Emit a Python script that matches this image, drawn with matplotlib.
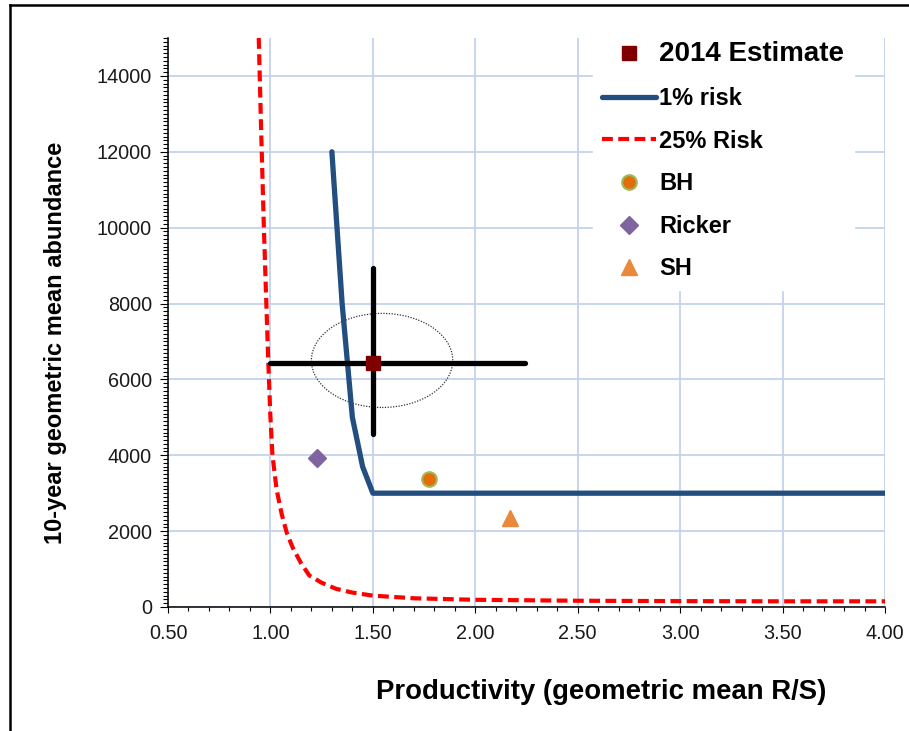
import matplotlib
matplotlib.use("Agg")
import matplotlib.pyplot as plt
from matplotlib.ticker import MultipleLocator, FormatStrFormatter
from matplotlib.patches import Ellipse
from matplotlib.lines import Line2D

plt.rcParams['font.family'] = ['Liberation Sans', 'DejaVu Sans']

############################################### data

# 1% risk boundary
risk1_x = [1.30, 1.35, 1.40, 1.45, 1.50, 4.00]
risk1_y = [12000, 8000, 5000, 3700, 3000, 3000]

# 25% risk boundary
risk25_x = [0.943, 0.955, 0.968, 0.980, 0.990, 1.000, 1.010, 1.030, 1.055, 1.080,
            1.110, 1.150, 1.190, 1.250, 1.320, 1.400, 1.500, 1.700, 2.000, 2.500,
            3.000, 3.500, 4.000]
risk25_y = [15000, 12500, 10000, 8000, 6400, 5000, 4000, 3100, 2450, 1950,
            1550, 1150, 830, 640, 480, 380, 300, 230, 190, 165,
            155, 150, 150]

# 2014 estimate and its intervals
est_x, est_y = 1.50, 6420
est_x_range = [1.00, 2.245]
est_y_range = [4560, 8940]

# dotted confidence region
ell_center = (1.545, 6500)
ell_width = 0.69
ell_height = 2480

# model estimates
bh_x, bh_y = [1.776], [3380]
ricker_x, ricker_y = [1.226], [3940]
sh_x, sh_y = [2.169], [2350]

############################################### figure

fig = plt.figure(figsize=(9.09, 7.31), dpi=100)
ax = fig.add_axes([168 / 909, 124 / 731, 717 / 909, 569 / 731])

grid_col = '#C3D3EC'
ax.set_axisbelow(True)
ax.grid(True, which='major', color=grid_col, linewidth=1.3)

ax.add_patch(Ellipse(ell_center, ell_width, ell_height, fill=False,
                     edgecolor='#333333', linestyle=(0, (1, 1.2)), linewidth=0.9, zorder=3))

ax.plot(est_x_range, [est_y, est_y], color='black', linewidth=3.8,
        solid_capstyle='round', zorder=4)
ax.plot([est_x, est_x], est_y_range, color='black', linewidth=3.8,
        solid_capstyle='round', zorder=4)

ax.plot([est_x], [est_y], linestyle='none', marker='s', markersize=10,
        color='#7F0000', label='2014 Estimate', zorder=6)
ax.plot(risk1_x, risk1_y, color='#224E80', linewidth=3.8,
        solid_joinstyle='round', solid_capstyle='round', label='1% risk', zorder=3)
ax.plot(risk25_x, risk25_y, color='#FF0000', linewidth=3.0, dashes=(2.6, 1.3),
        label='25% Risk', zorder=3)
ax.plot(bh_x, bh_y, linestyle='none', marker='o', markersize=10.5,
        markerfacecolor='#E46C0A', markeredgecolor='#9BBB59', markeredgewidth=1.5,
        label='BH', zorder=5)
ax.plot(ricker_x, ricker_y, linestyle='none', marker='D', markersize=9,
        color='#8064A2', label='Ricker', zorder=5)
ax.plot(sh_x, sh_y, linestyle='none', marker='^', markersize=12,
        color='#E8893C', label='SH', zorder=5)

ax.set_xlim(0.5, 4.0)
ax.set_ylim(0, 15000)
ax.xaxis.set_major_locator(MultipleLocator(0.5))
ax.xaxis.set_minor_locator(MultipleLocator(0.1))
ax.xaxis.set_major_formatter(FormatStrFormatter('%.2f'))
ax.yaxis.set_major_locator(MultipleLocator(2000))
ax.yaxis.set_minor_locator(MultipleLocator(100))

ax.tick_params(axis='both', which='both', direction='out', width=0.8,
               labelsize=14.3, labelcolor='#1a1a1a')
ax.tick_params(axis='x', which='major', length=4, pad=8)
ax.tick_params(axis='x', which='minor', length=3.2)
ax.tick_params(axis='y', which='major', length=5.5, pad=6)
ax.tick_params(axis='y', which='minor', length=3.6)

for s in ['top', 'right']:
    ax.spines[s].set_visible(False)
for s in ['left', 'bottom']:
    ax.spines[s].set_linewidth(1.1)

fig.text(601 / 909, 1 - 692 / 731, 'Productivity (geometric mean R/S)',
         fontsize=19.8, fontweight='bold', ha='center', va='center')
fig.text(56 / 909, 1 - 343 / 731, '10-year geometric mean abundance',
         fontsize=17, fontweight='bold', ha='center', va='center', rotation=90)

leg = ax.legend(loc='upper left', bbox_to_anchor=(593 / 909, 1 - 32 / 731),
                bbox_transform=fig.transFigure, numpoints=1,
                prop={'weight': 'bold', 'size': 17}, frameon=True, fancybox=False,
                facecolor='white', edgecolor='white', framealpha=1,
                handlelength=2.25, handletextpad=0.15, labelspacing=0.83,
                borderpad=0.4, borderaxespad=0)
leg.get_texts()[0].set_fontsize(20)

# outer frame (only top and left edges visible)
fig.add_artist(Line2D([9.5 / 909, 9.5 / 909], [0, 1 - 4.5 / 731], color='black', linewidth=1.8))
fig.add_artist(Line2D([9.5 / 909, 1], [1 - 4.5 / 731, 1 - 4.5 / 731], color='black', linewidth=1.8))

fig.savefig('out.png', dpi=100)
